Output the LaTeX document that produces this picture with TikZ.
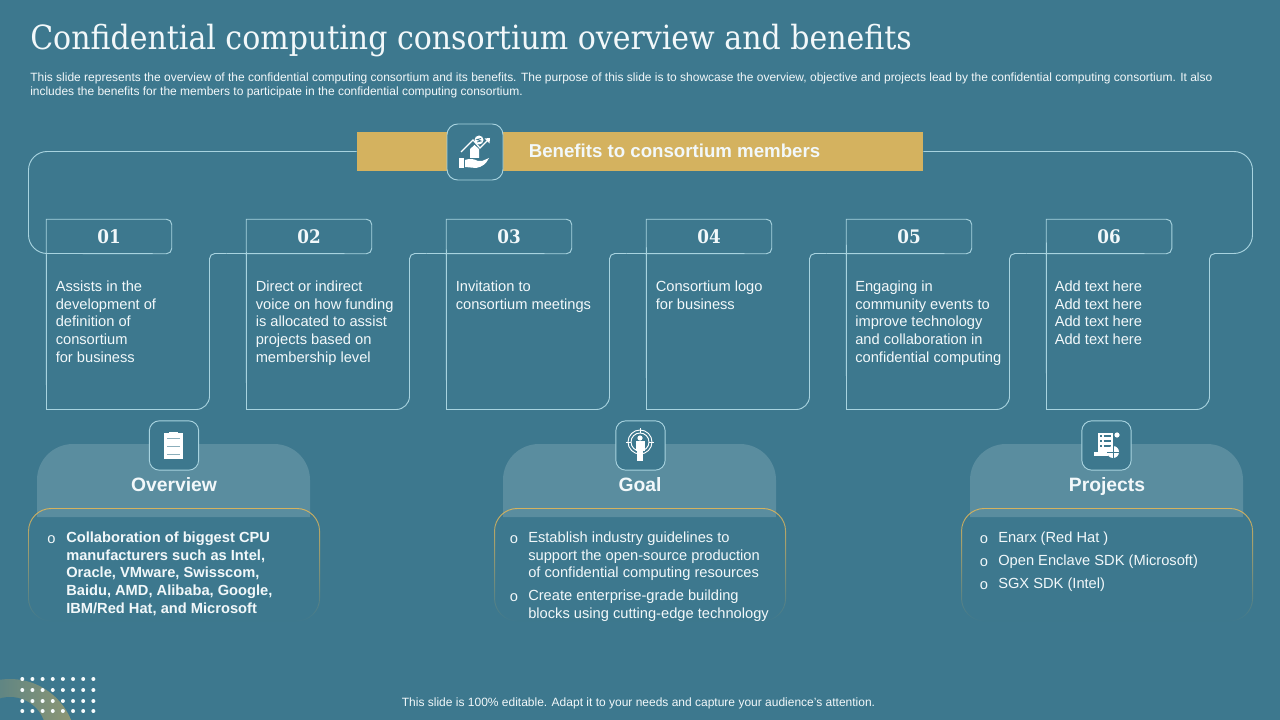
\documentclass[tikz,border=0pt]{standalone}
\usepackage{fontspec}
\setmainfont{Liberation Sans}
\newfontfamily\headfont{DejaVu Serif Condensed}
\newfontfamily\titlefont{DejaVu Serif Condensed}
\usetikzlibrary{fadings}
\definecolor{slidebg}{HTML}{3D788E}
\definecolor{tabfill}{HTML}{5A8D9F}
\definecolor{gold}{HTML}{D4B25F}
\definecolor{rulecol}{HTML}{A8D3DF}
\definecolor{ink}{HTML}{F2F8FA}
\tikzfading[name=fadeout,top color=transparent!0,middle color=transparent!30,bottom color=transparent!100]
\tikzset{
        rule/.style={draw=rulecol,line width=0.7pt},
        iconbox/.style={draw=rulecol,line width=0.7pt,fill=slidebg,rounded corners=7.5pt,minimum width=37pt,minimum height=37pt,inner sep=0pt},
        numbox/.style={font=\headfont\bfseries\fontsize{14}{14}\selectfont,text=ink,minimum width=93.75pt,minimum height=25.5pt,inner sep=0pt},
        body/.style={font=\fontsize{11}{13.3}\selectfont,text=ink,align=left,anchor=north west,inner sep=0pt},
        tabtitle/.style={font=\bfseries\fontsize{14.5}{14.5}\selectfont,text=ink,inner sep=0pt,anchor=base},
        bullet/.style={font=\fontsize{11}{11}\selectfont,text=ink,inner sep=0pt},
        icon/.style={fill=white,draw=none},
}
\begin{document}
\begin{tikzpicture}[x=0.75pt,y=-0.75pt]
        \useasboundingbox (0,0) rectangle (1280,720);
        \fill[slidebg] (0,0) rectangle (1280,720);
        \begin{scope}
                \clip (0,0) rectangle (1280,720);
                \shade[left color=slidebg,right color=gold!55!slidebg] (10,745) circle [radius=66];
                \fill[slidebg] (10,733) circle [radius=36];
        \end{scope}
        \foreach \col in {0,...,7}
                \foreach \row/\ypos in {0/679,1/690,2/701,3/711}
                        \fill[white!90!rulecol] (22.3+\col*10.15,\ypos) circle [radius=2];

        \node[font=\titlefont\fontsize{25}{25}\selectfont,text=ink,anchor=west,inner sep=0pt] (title) at (30,41) {Confidential computing consortium overview and benefits};
        \node[font=\fontsize{8.99}{10.4}\selectfont,text=ink,align=left,anchor=north west,inner sep=0pt] (intro) at (30,72.5) {This slide represents the overview of the confidential computing consortium and its benefits. The purpose of this slide is to showcase the overview, objective and projects lead by the confidential computing consortium. It also\\includes the benefits for the members to participate in the confidential computing consortium.};
        \node[font=\fontsize{9}{9}\selectfont,text=ink,inner sep=0pt] (foot) at (638.5,703) {This slide is 100\% editable. Adapt it to your needs and capture your audience's attention.};

        \node[fill=gold,minimum width=424.5pt,minimum height=29.25pt,inner sep=0pt] (banner) at (640,151.5) {};
        \node[font=\bfseries\fontsize{14}{14}\selectfont,text=ink,inner sep=0pt] (bannertxt) at (674.5,151) {Benefits to consortium members};

        \foreach \i/\num in {1/01,2/02,3/03,4/04,5/05,6/06} {
                \pgfmathsetmacro{\xl}{46.5+200*(\i-1)}
                \node[numbox] (num\i) at (\xl+62.5,236.5) {\num};
                \coordinate (join\i) at (\xl-20,253.5);
                \coordinate (cardsw\i) at (\xl,409.5);
                \coordinate (cardse\i) at (\xl+163,409.5);
                \coordinate (cardne\i) at (\xl+163,253.5);
        }
        \coordinate (join1) at (70,253.5);
        \coordinate (join7) at (1216,253.5);
        \coordinate (leftup) at (28.5,151.5);
        \coordinate (leftdn) at (28.5,253.5);
        \coordinate (rightup) at (1252.5,151.5);
        \coordinate (rightdn) at (1252.5,253.5);
        \draw[rule,rounded corners=14pt] (banner.west) -- (leftup) -- (leftdn) -- (join1);
        \draw[rule,rounded corners=14pt] (join7) -- (rightdn) -- (rightup) -- (banner.east);
        \foreach \i [evaluate=\i as \n using int(\i+1)] in {1,...,6} {
                \draw[rule] (join\i) [rounded corners=4pt] -- (num\i.south east) -- (num\i.north east) [sharp corners] -- (num\i.north west) -- (cardsw\i) [rounded corners=10pt] -- (cardse\i) [rounded corners=4pt] -- (cardne\i) -- (join\n);
        }

        \node[iconbox,minimum width=42pt,minimum height=42pt,rounded corners=8pt] (bannericon) at (475,152) {};
        \fill[icon] (459,158) rectangle (464,168);
        \fill[icon] (465,160) .. controls (470,158) and (474,159) .. (478,161) -- (482,161) -- (489,158) .. controls (486,164) and (482,167) .. (476,168) -- (465,167) -- cycle;
        \fill[icon] (470,149) -- (474.5,145) -- (479,149) -- (479,158) -- (470,158) -- cycle;
        \draw[white,line width=0.9pt] (461,152) -- (473,140) -- (480,148) -- (488,140);
        \fill[icon] (490,138) -- (484.5,138.5) -- (489.5,143.5) -- cycle;
        \fill[icon] (479,140) circle [radius=4.5];
        \draw[slidebg,line width=0.6pt] (481,138.5) -- (477,139.5) -- (481,141) -- (477,142);

        \foreach \xl/\name/\ttl in {37/ov/Overview,503/go/Goal,970/pr/Projects} {
                \fill[tabfill] (\xl,517) [rounded corners=27pt] -- (\xl,444) -- (\xl+273,444) [sharp corners] -- (\xl+273,517) -- cycle;
                \draw[gold,line width=0.7pt,path fading=fadeout,fit fading=true,rounded corners=17pt] (\xl-8.5,621) rectangle (\xl+282.5,508.5);
                \node[tabtitle] (\name title) at (\xl+137,491) {\ttl};
        }
        \node[iconbox] (ovicon) at (174,445.5) {};
        \node[iconbox] (goicon) at (640.5,445.5) {};
        \node[iconbox] (pricon) at (1106.5,445.5) {};

        \fill[icon] (164,433) rectangle (183,459);
        \fill[icon] (169,431.5) rectangle (178,434);
        \foreach \yy in {438,446,454}
                \draw[slidebg!60!white,line width=0.4pt] (167,\yy) -- (180,\yy);

        \draw[white,line width=0.7pt] (640,442) circle [radius=12];
        \draw[white,line width=0.7pt] (640,442) circle [radius=9];
        \draw[white,line width=0.7pt] (640,428) -- (640,433) (626,442) -- (631,442) (649,442) -- (654,442);
        \fill[icon] (640,438) circle [radius=2.6];
        \fill[icon] (635.5,441) rectangle (644.5,451);
        \fill[icon] (637,450) rectangle (643,461);

        \fill[icon] (1098,433) rectangle (1113,453);
        \fill[icon] (1094,452) rectangle (1108,456);
        \fill[icon] (1117,435) circle [radius=2.6];
        \foreach \yy in {436,441,446}
                \draw[slidebg,line width=0.9pt] (1100,\yy) -- (1102,\yy) (1103.5,\yy) -- (1111,\yy);
        \fill[icon] (1113,452) circle [radius=6];
        \draw[slidebg,line width=0.5pt] (1113,446) -- (1113,458) (1107,452) -- (1119,452);

        \node[body] (card1) at (55.5,280.5) {Assists in the\\development of\\definition of\\consortium\\for business};
        \node[body] (card2) at (255.5,280.5) {Direct or indirect\\voice on how funding\\is allocated to assist\\projects based on\\membership level};
        \node[body] (card3) at (455.5,280.5) {Invitation to\\consortium meetings};
        \node[body] (card4) at (655.5,280.5) {Consortium logo\\for business};
        \node[body] (card5) at (855,280.5) {Engaging in\\community events to\\improve technology\\and collaboration in\\confidential computing};
        \node[body] (card6) at (1054.5,280.5) {Add text here\\Add text here\\Add text here\\Add text here};

        \node[bullet] (ovb) at (51.5,539.5) {o};
        \node[body,font=\bfseries\fontsize{11}{13.3}\selectfont] (ovtxt) at (66,531.5) {Collaboration of biggest CPU\\manufacturers such as Intel,\\Oracle, VMware, Swisscom,\\Baidu, AMD, Alibaba, Google,\\IBM/Red Hat, and Microsoft};

        \node[bullet] (gob1) at (514,539.5) {o};
        \node[body] (gotxt1) at (528,531.5) {Establish industry guidelines to\\support the open-source production\\of confidential computing resources};
        \node[bullet] (gob2) at (514,597.5) {o};
        \node[body] (gotxt2) at (528,589.5) {Create enterprise-grade building\\blocks using cutting-edge technology};

        \node[bullet] (prb1) at (984,539.5) {o};
        \node[body] (prtxt1) at (998,531.5) {Enarx (Red Hat )};
        \node[bullet] (prb2) at (984,562.5) {o};
        \node[body] (prtxt2) at (998,554.5) {Open Enclave SDK (Microsoft)};
        \node[bullet] (prb3) at (984,585.5) {o};
        \node[body] (prtxt3) at (998,577.5) {SGX SDK (Intel)};
\end{tikzpicture}
\end{document}
